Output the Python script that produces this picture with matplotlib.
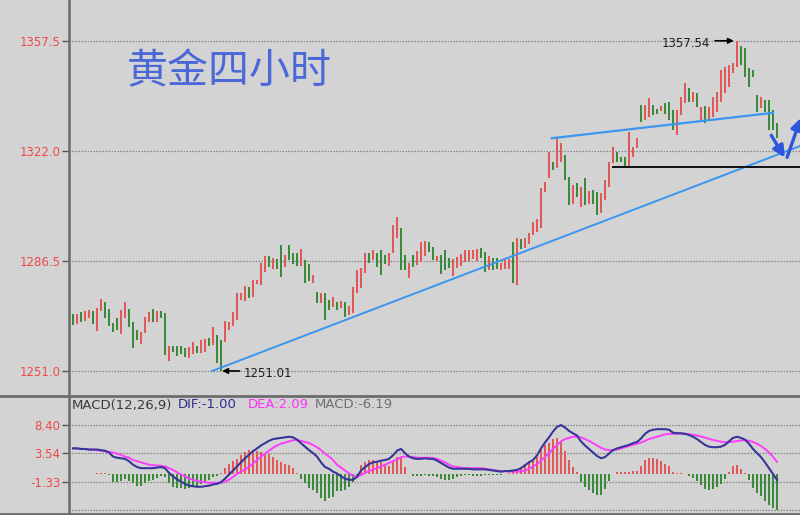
import matplotlib
matplotlib.use("Agg")
import matplotlib.pyplot as plt
from matplotlib.lines import Line2D

plt.rcParams['font.family'] = ['DejaVu Sans']

# 4h gold candles (open / close)
opens = [1269.4, 1266.1, 1270.0, 1267.0, 1268.1, 1270.4, 1263.9, 1270.4, 1273.3, 1271.0,
         1266.5, 1268.1, 1263.0, 1268.1, 1271.0, 1266.9, 1264.2, 1259.6, 1263.3, 1266.8,
         1271.0, 1266.8, 1270.4, 1269.7, 1254.2, 1259.1, 1259.1, 1259.1, 1258.4, 1255.2,
         1256.5, 1259.1, 1256.8, 1257.0, 1261.5, 1259.5, 1262.6, 1261.0, 1260.5, 1264.2,
         1265.5, 1267.5, 1274.0, 1273.5, 1278.0, 1275.0, 1279.0, 1278.8, 1283.0, 1288.0,
         1284.0, 1287.0, 1291.7, 1284.5, 1291.5, 1289.0, 1289.0, 1285.0, 1286.8, 1285.5,
         1279.4, 1276.5, 1272.9, 1276.2, 1274.0, 1271.5, 1273.3, 1271.3, 1273.3, 1269.0,
         1269.7, 1276.2, 1277.8, 1282.6, 1289.0, 1286.8, 1289.0, 1290.0, 1288.5, 1285.0,
         1289.0, 1293.9, 1297.0, 1288.4, 1281.0, 1288.4, 1285.2, 1286.2, 1288.0, 1292.6,
         1291.0, 1286.5, 1288.4, 1290.0, 1287.5, 1281.6, 1284.2, 1284.8, 1286.2, 1286.5,
         1287.0, 1286.5, 1290.7, 1289.4, 1283.5, 1287.5, 1287.5, 1283.5, 1284.0, 1284.0,
         1292.6, 1278.8, 1293.5, 1290.7, 1292.0, 1294.9, 1296.0, 1297.1, 1308.8, 1313.3,
         1318.4, 1316.5, 1318.4, 1320.7, 1313.6, 1305.0, 1311.5, 1304.0, 1313.3, 1305.0,
         1309.5, 1308.8, 1302.0, 1306.2, 1310.4, 1318.1, 1321.7, 1320.1, 1320.1, 1316.5,
         1320.1, 1323.0, 1336.8, 1332.0, 1333.0, 1336.8, 1335.5, 1335.0, 1337.5, 1337.8,
         1335.2, 1327.2, 1333.6, 1337.5, 1342.3, 1337.8, 1340.7, 1331.4, 1336.5, 1332.0,
         1333.0, 1334.6, 1337.8, 1340.7, 1342.6, 1347.2, 1349.1, 1356.0, 1355.2, 1348.8,
         1348.0, 1340.0, 1336.0, 1338.5, 1338.5, 1335.2, 1331.0]
closes = [1265.8, 1269.4, 1266.8, 1270.3, 1270.7, 1266.2, 1271.4, 1274.2, 1268.1, 1265.6,
          1263.7, 1264.2, 1270.7, 1273.3, 1265.2, 1258.4, 1261.0, 1263.7, 1268.5, 1270.0,
          1266.9, 1270.4, 1268.1, 1256.2, 1259.1, 1257.2, 1255.8, 1256.5, 1255.5, 1258.8,
          1260.4, 1256.8, 1261.0, 1261.3, 1259.0, 1265.2, 1253.5, 1251.0, 1267.0, 1266.8,
          1270.0, 1276.0, 1276.0, 1278.5, 1274.5, 1280.5, 1280.5, 1286.0, 1288.0, 1284.5,
          1287.5, 1284.0, 1281.3, 1288.5, 1286.8, 1285.5, 1285.0, 1290.5, 1279.4, 1280.0,
          1282.0, 1272.9, 1276.2, 1267.5, 1270.7, 1275.0, 1270.7, 1273.6, 1268.4, 1272.0,
          1278.1, 1283.6, 1284.2, 1289.0, 1286.0, 1290.0, 1284.5, 1282.0, 1285.5, 1289.0,
          1298.0, 1300.7, 1283.6, 1283.6, 1286.0, 1284.5, 1289.7, 1292.6, 1293.0, 1289.5,
          1286.8, 1288.0, 1282.3, 1283.6, 1284.2, 1287.0, 1287.8, 1288.8, 1290.0, 1290.0,
          1290.0, 1290.5, 1287.5, 1283.0, 1288.0, 1283.5, 1284.0, 1286.0, 1287.5, 1287.0,
          1279.4, 1294.0, 1290.5, 1294.0, 1295.5, 1299.1, 1300.0, 1310.1, 1312.0, 1321.7,
          1315.9, 1326.2, 1324.5, 1312.6, 1304.6, 1311.0, 1307.0, 1310.5, 1304.6, 1309.0,
          1305.0, 1301.3, 1308.4, 1312.6, 1318.4, 1323.3, 1318.4, 1318.4, 1316.8, 1328.1,
          1323.3, 1326.2, 1331.4, 1336.8, 1339.1, 1333.6, 1334.0, 1336.5, 1334.0, 1332.0,
          1328.8, 1335.2, 1339.4, 1343.9, 1337.8, 1341.0, 1336.2, 1336.2, 1331.0, 1336.2,
          1339.4, 1341.0, 1348.1, 1349.1, 1349.7, 1350.4, 1357.5, 1349.7, 1345.9, 1342.6,
          1345.9, 1334.6, 1339.5, 1334.6, 1328.8, 1328.8, 1326.2]

# MACD(12,26,9) lines
dif = [4.4, 4.4, 4.3, 4.3, 4.2, 4.2, 4.2, 4.1, 4.0, 3.7,
       3.0, 2.8, 2.7, 2.6, 2.2, 1.6, 1.2, 1.0, 1.0, 1.0,
       1.0, 1.1, 1.2, 1.0, 0.2, -0.4, -0.9, -1.3, -1.7, -2.0,
       -2.1, -2.2, -2.2, -2.1, -2.0, -1.8, -1.7, -1.4, -0.8, -0.1,
       0.6, 1.3, 2.0, 2.7, 3.3, 3.9, 4.4, 4.9, 5.3, 5.7,
       6.0, 6.1, 6.2, 6.3, 6.4, 6.3, 5.9, 5.3, 4.7, 4.1,
       3.6, 3.0, 2.0, 1.2, 0.9, 0.4, 0.1, -0.4, -0.8, -1.0,
       -1.0, -0.5, 0.6, 1.2, 1.7, 2.0, 2.1, 2.3, 2.4, 2.6,
       3.2, 4.0, 4.3, 3.6, 3.0, 2.7, 2.6, 2.6, 2.7, 2.6,
       2.6, 2.3, 1.9, 1.5, 1.1, 0.9, 0.9, 0.9, 0.9, 0.9,
       0.8, 0.8, 0.8, 0.8, 0.7, 0.6, 0.5, 0.4, 0.5, 0.5,
       0.6, 0.7, 1.0, 1.5, 2.0, 2.4, 3.2, 4.4, 5.4, 6.3,
       7.3, 8.1, 8.4, 8.0, 7.4, 7.0, 6.6, 5.6, 4.9, 4.3,
       3.7, 3.1, 2.7, 2.9, 3.5, 4.1, 4.4, 4.6, 4.8, 5.0,
       5.3, 5.5, 6.1, 6.9, 7.4, 7.6, 7.7, 7.7, 7.7, 7.6,
       7.1, 7.0, 7.0, 6.9, 6.7, 6.4, 6.0, 5.5, 5.0, 4.7,
       4.6, 4.6, 4.7, 5.0, 5.6, 6.2, 6.4, 6.2, 5.9, 5.2,
       4.3, 3.6, 2.9, 2.0, 1.0, 0.0, -1.0]
dea = [4.4, 4.4, 4.3, 4.3, 4.2, 4.2, 4.1, 4.0, 3.9, 3.8,
       3.7, 3.5, 3.3, 3.0, 2.8, 2.4, 2.2, 2.0, 1.8, 1.6,
       1.5, 1.45, 1.4, 1.3, 1.0, 0.7, 0.3, -0.1, -0.4, -0.8,
       -1.0, -1.2, -1.3, -1.4, -1.5, -1.5, -1.5, -1.5, -1.3, -1.0,
       -0.5, 0.0, 0.4, 0.8, 1.2, 1.8, 2.4, 3.0, 3.5, 4.0,
       4.5, 4.9, 5.2, 5.4, 5.6, 5.8, 5.8, 5.7, 5.5, 5.3,
       5.0, 4.6, 4.1, 3.5, 3.0, 2.4, 1.6, 1.1, 0.6, 0.1,
       -0.3, -0.45, -0.2, 0.2, 0.5, 0.8, 1.0, 1.3, 1.6, 1.9,
       2.2, 2.5, 2.9, 3.0, 3.0, 2.9, 2.8, 2.8, 2.8, 2.8,
       2.75, 2.6, 2.3, 2.0, 1.6, 1.3, 1.2, 1.1, 1.0, 1.0,
       1.0, 1.0, 1.0, 0.9, 0.8, 0.7, 0.6, 0.5, 0.5, 0.45,
       0.4, 0.4, 0.4, 0.6, 0.9, 1.3, 1.7, 2.3, 2.9, 3.6,
       4.3, 5.0, 5.6, 6.0, 6.2, 6.4, 6.4, 6.3, 6.0, 5.7,
       5.3, 4.9, 4.5, 4.2, 4.1, 4.1, 4.2, 4.4, 4.6, 4.8,
       5.0, 5.2, 5.4, 5.7, 6.0, 6.2, 6.4, 6.6, 6.8, 6.9,
       6.9, 6.95, 6.95, 6.9, 6.85, 6.75, 6.6, 6.45, 6.25, 6.05,
       5.85, 5.7, 5.55, 5.45, 5.45, 5.55, 5.65, 5.75, 5.8, 5.7,
       5.5, 5.2, 4.8, 4.3, 3.7, 2.95, 2.09]

price_ticks = [1357.5, 1322.0, 1286.5, 1251.0]
macd_ticks = [8.40, 3.54, -1.33]
macd_grid = [8.40, 3.54, -1.33, -6.19]
header = [('MACD(12,26,9)', '#3a3a3a', 72),
          ('DIF:-1.00', '#2c2c8c', 178),
          ('DEA:2.09', '#ff30ff', 248),
          ('MACD:-6.19', '#707070', 315)]

BG = '#d3d3d3'
UP = '#e05858'
DOWN = '#3b8a3b'
TREND = '#3a96f0'

fig = plt.figure(figsize=(8, 5.15), dpi=100, facecolor=BG)
ax = fig.add_axes([69 / 800, 120 / 515, 731 / 800, 395 / 515], facecolor=BG)
ax2 = fig.add_axes([69 / 800, 3 / 515, 731 / 800, 115 / 515], facecolor=BG)

n = len(closes)
xs = list(range(n))

# candles
colors = [UP if c >= o else DOWN for o, c in zip(opens, closes)]
heights = [c - o for o, c in zip(opens, closes)]
ax.bar(xs, heights, bottom=opens, width=0.62, color=colors, linewidth=0, zorder=3)

for v in price_ticks:
    ax.axhline(v, color='#858585', lw=0.9, ls=(0, (1.2, 1.2)), zorder=1)

# trend lines
ax.plot([34.8, 183.0], [1251.0, 1324.2], color=TREND, lw=1.4, zorder=4)
ax.plot([119.7, 175.0], [1326.1, 1334.3], color=TREND, lw=1.6, zorder=4)
ax.plot([135.0, 182.0], [1316.9, 1316.9], color='#111111', lw=1.4, zorder=4)

# extreme markers
ax.annotate('', xy=(165.9, 1357.54), xytext=(159.8, 1357.54),
            arrowprops=dict(arrowstyle='-|>', color='black', lw=1.2, mutation_scale=8), zorder=5)
ax.text(159.3, 1356.8, '1357.54', ha='right', va='center', fontsize=8.5, color='#1e1e1e')
ax.annotate('', xy=(36.6, 1251.0), xytext=(42.3, 1251.0),
            arrowprops=dict(arrowstyle='-|>', color='black', lw=1.2, mutation_scale=8), zorder=5)
ax.text(42.6, 1250.2, '1251.01', ha='left', va='center', fontsize=8.5, color='#1e1e1e')

# projected move
ax.annotate('', xy=(178.3, 1319.1), xytext=(174.2, 1327.8),
            arrowprops=dict(arrowstyle='-|>', color='#2f55e0', lw=2.4, mutation_scale=17),
            zorder=6, annotation_clip=False)
ax.annotate('', xy=(182.2, 1333.5), xytext=(178.3, 1319.1),
            arrowprops=dict(arrowstyle='-|>', color='#2f55e0', lw=2.4, mutation_scale=17),
            zorder=6, annotation_clip=False)

ax.set_xlim(-1, 181.75)
ax.set_ylim(1243.25, 1370.7)
ax.set_xticks([])
ax.set_yticks(price_ticks)
ax.set_yticklabels([f'{v:.1f}' for v in price_ticks])

# MACD panel
hist = [2 * (a - b) for a, b in zip(dif, dea)]
hcolors = [UP if h >= 0 else DOWN for h in hist]
ax2.bar(xs, hist, width=0.38, color=hcolors, linewidth=0, zorder=3)
for v in macd_grid:
    ax2.axhline(v, color='#858585', lw=0.9, ls=(0, (1.2, 1.2)), zorder=1)
ax2.plot(xs, dea, color='#ff3cff', lw=1.4, zorder=4)
ax2.plot(xs, dif, color='#36369a', lw=1.5, zorder=5)
ax2.set_xlim(-1, 181.75)
ax2.set_ylim(-6.53, 13.23)
ax2.set_xticks([])
ax2.set_yticks(macd_ticks)
ax2.set_yticklabels([f'{v:.2f}' for v in macd_ticks])

for a in (ax, ax2):
    for s in ('top', 'right', 'bottom'):
        a.spines[s].set_visible(False)
    a.spines['left'].set_color('#6c6c6c')
    a.spines['left'].set_linewidth(1.8)
    a.tick_params(axis='y', direction='out', length=5, width=1, color='#555555',
                  labelcolor='#f04848', labelsize=8.5, pad=1)

# panel frame lines
fig.add_artist(Line2D([0, 1], [119 / 515, 119 / 515], color='#6c6c6c', lw=2))
fig.add_artist(Line2D([0, 1], [1.5 / 515, 1.5 / 515], color='#6c6c6c', lw=2))

# title
fig.text(127 / 800, 1 - 72 / 515, '黄金四小时', fontsize=29.5, color='#4a68d8',
         family=['Noto Sans CJK SC', 'DejaVu Sans'], ha='left', va='center')

# MACD header
hy = 1 - 405 / 515
for txt, col, px in header:
    fig.text(px / 800, hy, txt, fontsize=9.5, color=col, va='center')

fig.savefig('out.png', dpi=100, facecolor=BG)
